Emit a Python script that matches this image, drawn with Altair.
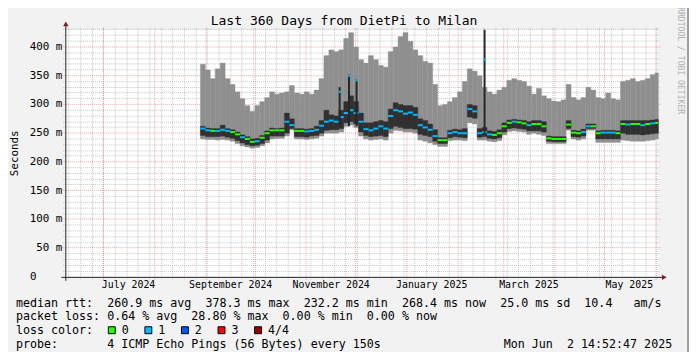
import math
from datetime import datetime, timedelta

import altair as alt
import pandas as pd

# ------------------------------------------------------------------ data
END_TIME = datetime(2025, 6, 2, 14, 52, 47)
SPAN_DAYS = 360
START_TIME = END_TIME - timedelta(days=SPAN_DAYS)
Y_MAX = 430

FIRST_BIN_DAY = 82   # first day (after START_TIME) with data
BIN_DAYS = 3         # each value below covers 3 days

smoke_max = [370, 360, 345, 362, 372, 345, 335, 322, 310, 298,
             288, 298, 305, 312, 322, 318, 320, 322, 333, 320,
             318, 322, 318, 325, 345, 385, 395, 392, 395, 415,
             425, 400, 378, 372, 385, 378, 368, 365, 392, 400,
             418, 425, 410, 395, 385, 375, 372, 335, 298, 300,
             305, 312, 322, 340, 362, 358, 350, 330, 322, 318,
             325, 330, 342, 345, 342, 340, 332, 318, 328, 315,
             310, 306, 305, 308, 335, 312, 308, 312, 330, 325,
             312, 310, 320, 310, 308, 340, 342, 345, 340, 342,
             345, 352, 355]

median_rtt = [258, 255, 254, 254, 256, 254, 252, 248, 243, 240,
              235, 236, 242, 250, 255, 255, 255, 270, 264, 254,
              254, 253, 254, 256, 263, 270, 272, 270, 278, 285,
              290, 285, 270, 257, 255, 258, 262, 258, 280, 290,
              288, 284, 286, 282, 264, 260, 256, 245, 238, 238,
              250, 252, 250, 250, 292, 288, 250, 252, 248, 247,
              250, 262, 268, 270, 269, 267, 264, 266, 266, 262,
              241, 240, 240, 240, 265, 251, 250, 252, 262, 262,
              250, 251, 251, 251, 250, 266, 265, 266, 266, 264,
              266, 267, 268]

dark_top = [262, 259, 258, 258, 264, 258, 256, 252, 247, 244,
            240, 241, 246, 254, 259, 258, 259, 285, 275, 258,
            258, 257, 258, 262, 272, 290, 282, 280, 290, 305,
            315, 305, 285, 268, 268, 270, 272, 270, 292, 303,
            300, 298, 298, 295, 275, 272, 266, 256, 242, 242,
            255, 257, 256, 258, 300, 298, 258, 260, 254, 253,
            256, 268, 273, 274, 273, 272, 270, 272, 272, 270,
            245, 244, 244, 244, 272, 255, 254, 257, 266, 266,
            254, 255, 255, 255, 254, 272, 272, 272, 272, 272,
            272, 273, 274]

dark_bottom = [246, 244, 244, 244, 245, 243, 241, 237, 233, 230,
               228, 229, 232, 238, 245, 245, 245, 250, 258, 244,
               244, 243, 245, 246, 250, 255, 256, 256, 258, 268,
               270, 266, 252, 246, 244, 245, 246, 244, 258, 262,
               260, 258, 258, 257, 248, 246, 244, 236, 232, 232,
               242, 244, 243, 242, 278, 276, 243, 244, 241, 240,
               242, 252, 258, 259, 258, 257, 254, 254, 254, 252,
               236, 235, 235, 235, 258, 244, 243, 245, 258, 258,
               240, 240, 240, 240, 240, 250, 248, 248, 248, 247,
               248, 249, 250]

smoke_min = [240, 239, 239, 238, 239, 238, 236, 232, 228, 226,
             224, 225, 228, 233, 240, 241, 241, 245, 256, 240,
             240, 239, 240, 241, 245, 250, 250, 250, 252, 262,
             264, 260, 245, 240, 238, 239, 240, 238, 250, 255,
             254, 252, 252, 250, 238, 236, 233, 230, 227, 227,
             237, 238, 238, 237, 268, 266, 238, 238, 236, 235,
             237, 247, 253, 254, 253, 252, 248, 250, 248, 246,
             232, 232, 232, 232, 255, 240, 238, 240, 255, 255,
             234, 234, 234, 234, 234, 238, 237, 236, 236, 236,
             237, 238, 240]

loss_bin = [1, 1, 0, 1, 1, 1, 0, 0, 1, 0,
            0, 1, 0, 0, 0, 0, 0, 1, 1, 0,
            0, 1, 1, 1, 1, 1, 1, 1, 1, 1,
            1, 1, 1, 1, 1, 1, 1, 1, 1, 1,
            1, 1, 1, 1, 1, 1, 1, 1, 0, 0,
            1, 1, 1, 1, 1, 1, 1, 1, 1, 0,
            0, 0, 0, 1, 0, 0, 1, 0, 0, 0,
            0, 0, 0, 0, 0, 0, 0, 1, 1, 0,
            0, 1, 1, 1, 0, 0, 1, 0, 0, 1,
            0, 1, 0]

# short latency spikes (narrower than one 3-day value)
spike_day = [166.5, 172.2, 176.8, 254.5]
spike_low = [262, 262, 262, 250]
spike_top = [330, 352, 344, 430]
spike_median = [322, 350, 342, 378]

y_major_values = [50, 100, 150, 200, 250, 300, 350, 400]
y_minor_step = 10
x_label_months = [(2024, 7, "July 2024"), (2024, 9, "September 2024"),
                  (2024, 11, "November 2024"), (2025, 1, "January 2025"),
                  (2025, 3, "March 2025"), (2025, 5, "May 2025")]

title_text = "Last 360 Days from DietPi to Milan"
y_title = "Seconds"
legend_rtt = "median rtt:  260.9 ms avg  378.3 ms max  232.2 ms min  268.4 ms now  25.0 ms sd  10.4   am/s"
legend_loss = "packet loss: 0.64 % avg  28.80 % max  0.00 % min  0.00 % now"
legend_color = "loss color:"
legend_probe = "probe:       4 ICMP Echo Pings (56 Bytes) every 150s"
stamp_text = "Mon Jun  2 14:52:47 2025"
watermark = "RRDTOOL / TOBI OETIKER"
loss_labels = ["0", "1", "2", "3", "4/4"]
loss_colors = ["#26ff00", "#00b8ff", "#0059ff", "#ff0000", "#a00000"]

# ------------------------------------------------------------------ layout
W, H = 600, 250
FONT = "DejaVu Sans Mono"
PX_DAY = W / SPAN_DAYS
PX_UNIT = H / Y_MAX


def dayoff(t):
    return (t - START_TIME).total_seconds() / 86400.0


def snap_day(d):
    return (math.floor(d * PX_DAY) + 0.5) / PX_DAY


def snap_val(v):
    py = H - v * PX_UNIT
    return (H - (math.floor(py) + 0.5)) / PX_UNIT


n = len(median_rtt)
d0 = [FIRST_BIN_DAY + BIN_DAYS * i for i in range(n)]
df = pd.DataFrame({
    "d0": d0,
    "d1": [min(a + BIN_DAYS, SPAN_DAYS) for a in d0],
    "smax": smoke_max, "smin": smoke_min,
    "dtop": dark_top, "dbot": dark_bottom,
    "med": median_rtt, "loss": loss_bin,
})
spikes = pd.DataFrame({"day": spike_day, "lo": spike_low, "hi": spike_top, "med": spike_median})

# calendar grid
weeks = []
t = datetime(START_TIME.year, START_TIME.month, START_TIME.day)
while t.weekday() != 0:
    t += timedelta(days=1)
while t <= END_TIME:
    weeks.append(snap_day(dayoff(t)))
    t += timedelta(days=7)
months = []
y, m = START_TIME.year, START_TIME.month + 1
while True:
    if m > 12:
        y, m = y + 1, 1
    t = datetime(y, m, 1)
    if t > END_TIME:
        break
    months.append(snap_day(dayoff(t)))
    m += 1

minor_vals = [snap_val(v) for v in range(y_minor_step, Y_MAX + 1, y_minor_step) if v % 50]
major_vals = [snap_val(v) for v in y_major_values]

xs = alt.Scale(domain=[0, SPAN_DAYS], nice=False, zero=False)
ys = alt.Scale(domain=[0, Y_MAX], nice=False, zero=False)


def X(f):
    return alt.X(f, type="quantitative", scale=xs, axis=None)


def Y(f):
    return alt.Y(f, type="quantitative", scale=ys, axis=None)


one = pd.DataFrame({"k": [0]})
loss_scale = alt.Scale(domain=[0, 1, 2, 3, 4], range=loss_colors)

smoke = alt.Chart(df).mark_rect(color="#8f8f8f", stroke="#8f8f8f", strokeWidth=0.4).encode(
    x=X("d0"), x2="d1", y=Y("smin"), y2="smax")
dark = alt.Chart(df).mark_rect(color="#303030", stroke="#303030", strokeWidth=0.4).encode(
    x=X("d0"), x2="d1", y=Y("dbot"), y2="dtop")
med = alt.Chart(df).mark_rule(strokeWidth=2).encode(
    x=X("d0"), x2="d1", y=Y("med"),
    color=alt.Color("loss:O", scale=loss_scale, legend=None))
spike_rule = alt.Chart(spikes).mark_rule(color="#262626", strokeWidth=2).encode(
    x=X("day"), y=Y("lo"), y2="hi")
spike_med = alt.Chart(spikes).mark_square(size=5, color="#00b8ff", opacity=1).encode(
    x=X("day"), y=Y("med"))

vminor = alt.Chart(pd.DataFrame({"day": weeks})).mark_rule(
    color="#8f8f8f", opacity=0.5, strokeDash=[1, 1], strokeWidth=1).encode(
    x=X("day"), y=alt.value(-2), y2=alt.value(252.5))
hminor = alt.Chart(pd.DataFrame({"v": minor_vals})).mark_rule(
    color="#8f8f8f", opacity=0.5, strokeDash=[1, 1], strokeWidth=1).encode(
    y=Y("v"), x=alt.value(-2), x2=alt.value(602))
vmajor = alt.Chart(pd.DataFrame({"day": months})).mark_rule(
    color="#de4f4f", opacity=0.5, strokeDash=[1, 1], strokeWidth=1).encode(
    x=X("day"), y=alt.value(-2), y2=alt.value(253.5))
hmajor = alt.Chart(pd.DataFrame({"v": major_vals})).mark_rule(
    color="#de4f4f", opacity=0.5, strokeDash=[1, 1], strokeWidth=1).encode(
    y=Y("v"), x=alt.value(-3), x2=alt.value(602))

xaxis = alt.Chart(one).mark_rule(color="#1f1f1f", strokeWidth=1).encode(
    x=alt.value(-4), x2=alt.value(604), y=alt.value(250.5))
yaxis = alt.Chart(one).mark_rule(color="#1f1f1f", strokeWidth=1).encode(
    x=alt.value(0.5), y=alt.value(254), y2=alt.value(-4))
xarrow = alt.Chart(one).mark_point(shape="triangle-right", filled=True, size=30,
                                   color="#801f1f", opacity=1).encode(
    x=alt.value(606), y=alt.value(250.5))
yarrow = alt.Chart(one).mark_point(shape="triangle-up", filled=True, size=30,
                                   color="#801f1f", opacity=1).encode(
    x=alt.value(0.5), y=alt.value(-6))

# text
ylab_df = pd.DataFrame({"v": y_major_values, "t": [f"{v} m" for v in y_major_values]})
ylabels = alt.Chart(ylab_df).mark_text(font=FONT, fontSize=11, align="right", baseline="middle",
                                      color="black").encode(
    y=Y("v"), x=alt.value(-3), text="t:N")
zero_label = alt.Chart(pd.DataFrame({"v": [0], "t": ["0"]})).mark_text(
    font=FONT, fontSize=11, align="right", baseline="middle", color="black").encode(
    y=Y("v"), x=alt.value(-29), text="t:N")

xlab_df = pd.DataFrame({
    "day": [dayoff(datetime(yy, mm, 16)) for yy, mm, _ in x_label_months],
    "t": [lab for _, _, lab in x_label_months]})
xlabels = alt.Chart(xlab_df).mark_text(font=FONT, fontSize=10, align="center", baseline="alphabetic",
                                      color="black").encode(
    x=X("day"), y=alt.value(261.3), text="t:N")


def txt(s, px, py, size, align="left", baseline="alphabetic", angle=0, color="black"):
    return alt.Chart(pd.DataFrame({"t": [s.replace(" ", "\u00a0")]})).mark_text(
        font=FONT, fontSize=size, align=align, baseline=baseline, angle=angle, color=color).encode(
        x=alt.value(px), y=alt.value(py), text="t:N")


title = txt(title_text, 282, -4.5, 13.2, align="center")
ytitle = txt(y_title, -50.5, 125, 11, align="center", baseline="middle", angle=270)
wm = txt(watermark, 622.3, -23, 8.2, align="left", baseline="middle", angle=90, color="#b0b0b0")
leg1 = txt(legend_rtt, -50, 280, 11.8)
leg2 = txt(legend_loss, -50, 294, 11.8)
leg3 = txt(legend_color, -50, 308, 11.8)
leg4 = txt(legend_probe, -50, 322, 11.8)
stamp = txt(stamp_text, 614, 322, 11.8, align="right")

box_df = pd.DataFrame({"i": list(range(len(loss_labels))), "lab": loss_labels, "col": loss_colors})
boxes = alt.Chart(box_df).transform_calculate(
    bx="43.5 + 37 * datum.i", bx2="50.5 + 37 * datum.i").mark_rect(
    stroke="black", strokeWidth=1).encode(
    x=alt.X("bx:Q", scale=None), x2="bx2:Q", y=alt.value(300.5), y2=alt.value(307.5),
    color=alt.Color("col:N", scale=None, legend=None))
box_text = alt.Chart(box_df).transform_calculate(tx="57 + 37 * datum.i").mark_text(
    font=FONT, fontSize=11.8, align="left", baseline="alphabetic", color="black").encode(
    x=alt.X("tx:Q", scale=None), y=alt.value(308), text="lab:N")

border = alt.Chart(one).mark_rule(color="#9e9e9e", strokeWidth=2).encode(
    x=alt.value(630), y=alt.value(-28), y2=alt.value(330))

chart = alt.layer(
    vminor, hminor, vmajor, hmajor,
    smoke, dark, med, spike_rule, spike_med,
    xaxis, yaxis, xarrow, yarrow,
    ylabels, zero_label, xlabels,
    title, ytitle, wm, leg1, leg2, leg3, leg4, stamp, boxes, box_text, border,
).properties(
    width=W, height=H,
    padding={"left": 58, "top": 20, "right": 31, "bottom": 74},
    autosize=alt.AutoSizeParams(type="none"),
    background="#f2f2f2",
).configure_view(fill="white", stroke=None)

chart.save("out.html", embed_options={"renderer": "svg", "actions": False})
